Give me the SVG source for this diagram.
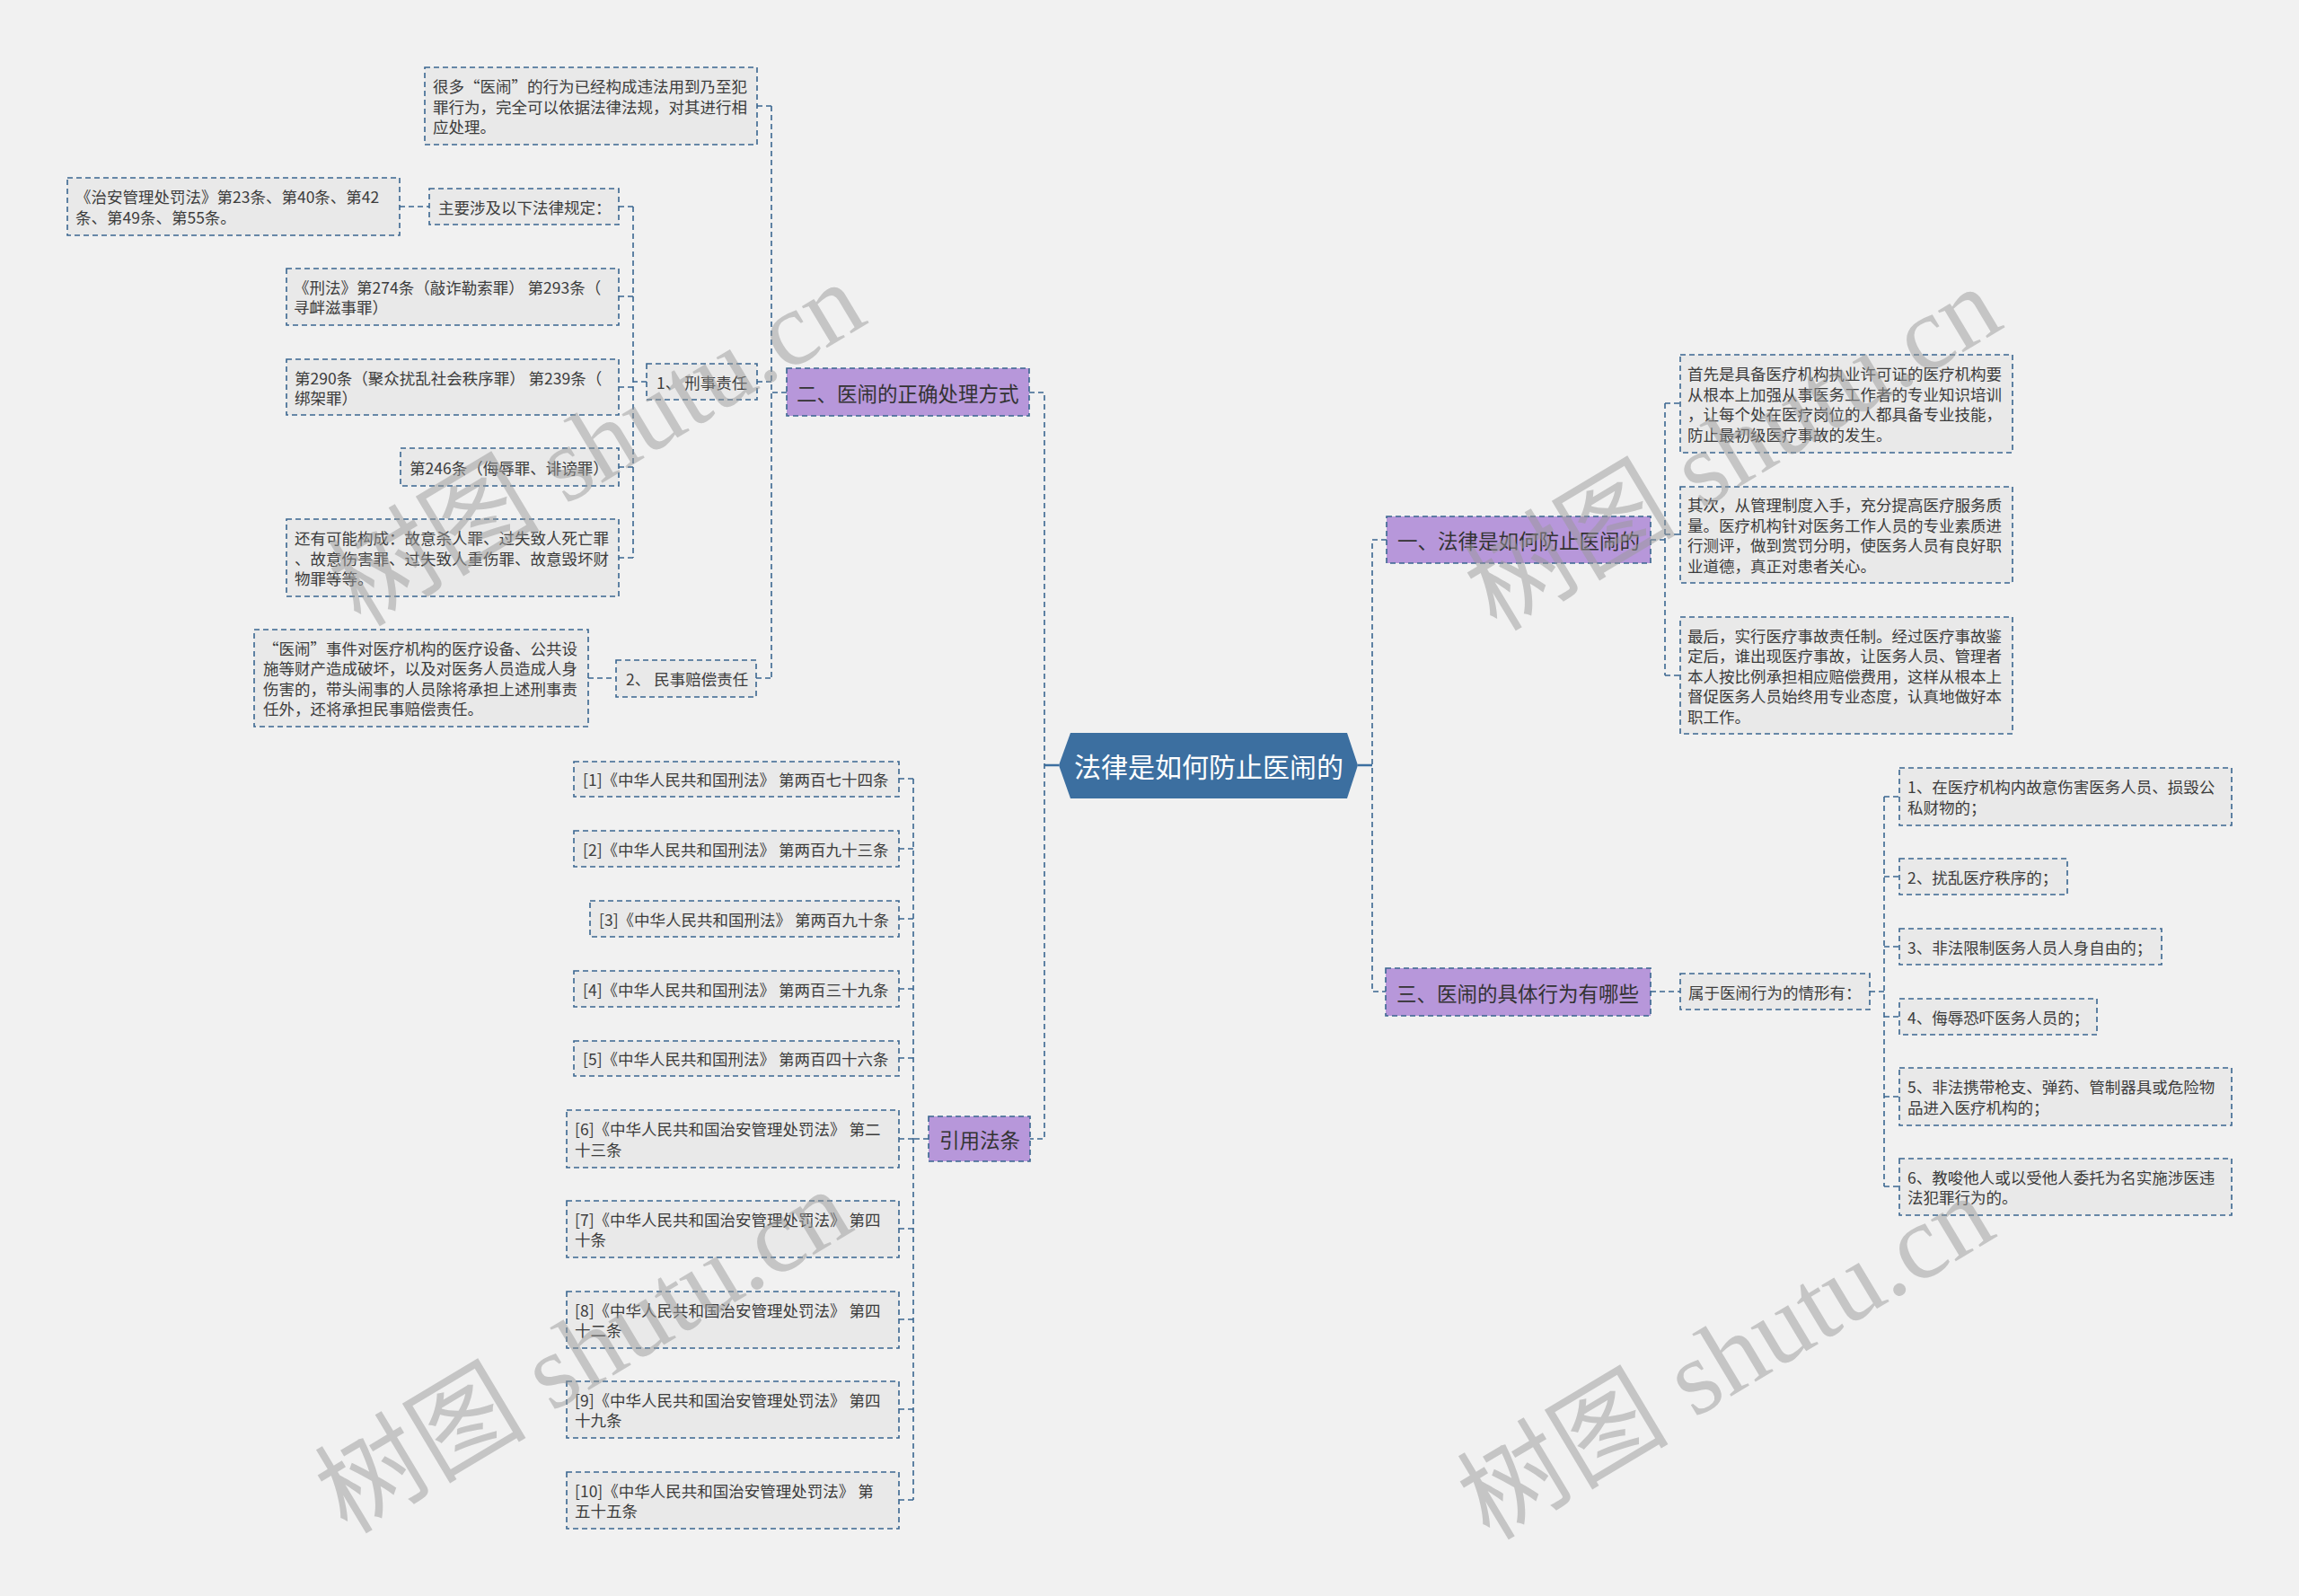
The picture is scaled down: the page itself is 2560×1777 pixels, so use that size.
<svg xmlns="http://www.w3.org/2000/svg" width="2560" height="1777" viewBox="0 0 2560 1777">
<style>
.bg{fill:#f1f1f1}
.leaf{fill:#e9e9e9;stroke:#3a6690;stroke-width:1.6;stroke-dasharray:6 4}
.main{fill:#b797da;stroke:#3a6690;stroke-width:1.6;stroke-dasharray:6 4}
.root{fill:#3c6fa0}
.conn{fill:none;stroke:#3a6690;stroke-width:1.6;stroke-dasharray:6 4}
.solid{fill:none;stroke:#3c6fa0;stroke-width:2.5}
.t{font-family:"Noto Sans CJK SC","Microsoft YaHei",sans-serif;font-size:17.5px;fill:#3c3c3c;dominant-baseline:central}
.m{font-family:"Noto Sans CJK SC",sans-serif;font-size:22.5px;fill:#333;dominant-baseline:central}
.r{font-family:"Noto Sans CJK SC",sans-serif;font-size:30px;fill:#fff;dominant-baseline:central;text-anchor:middle}
.wm{font-family:"Liberation Serif","Noto Sans CJK SC",serif;font-size:118px;fill:#9a9a9a;opacity:0.5;text-anchor:middle;dominant-baseline:central}
</style>
<rect class="bg" x="0" y="0" width="2560" height="1777"/>

<g id="connectors">
<path class="solid" d="M1163 852 H1179 M1512 852 H1528"/>
<path class="conn" d="M1146 437 H1163 V1268 H1147"/>
<path class="conn" d="M1544 601 H1528 V1104 H1543"/>
<path class="conn" d="M876 437 H859 M859 118 V755 M843 118 H859 M843 425 H859 M842 755 H859"/>
<path class="conn" d="M720 425 H705 M705 230 V621 M689 230 H705 M689 330 H705 M689 431 H705 M689 520 H705 M689 621 H705"/>
<path class="conn" d="M445 230 H478 M655 755 H686"/>
<path class="conn" d="M1034 1268 H1017 M1017 867 V1670 M1001 867 H1017 M1001 945 H1017 M1001 1023 H1017 M1001 1101 H1017 M1001 1178 H1017 M1001 1268 H1017 M1001 1368 H1017 M1001 1469 H1017 M1001 1569 H1017 M1001 1670 H1017"/>
<path class="conn" d="M1838 601 H1854 M1854 449 V752 M1854 449 H1871 M1854 595 H1871 M1854 752 H1871"/>
<path class="conn" d="M1838 1104 H1871 M2082 1104 H2098 M2098 887 V1321 M2098 887 H2115 M2098 976 H2115 M2098 1054 H2115 M2098 1132 H2115 M2098 1221 H2115 M2098 1321 H2115"/>
</g>

<g id="root">
<polygon class="root" points="1179,852 1192,816 1500,816 1512,852 1500,889 1192,889"/>
<text class="r" x="1346" y="852">法律是如何防止医闹的</text>
</g>

<g id="n2">
<rect class="main" x="876" y="410" width="270" height="53"/>
<text class="m" x="887" y="437">二、医闹的正确处理方式</text>
</g>
<g id="n2a">
<rect class="leaf" x="473" y="75" width="370" height="86"/>
<text class="t" x="482" y="95.5">很多“医闹”的行为已经构成违法用到乃至犯</text>
<text class="t" x="482" y="118">罪行为，完全可以依据法律法规，对其进行相</text>
<text class="t" x="482" y="140.5">应处理。</text>
</g>
<g id="n2b">
<rect class="leaf" x="720" y="405" width="123" height="40"/>
<text class="t" x="731" y="425">1、 刑事责任</text>
</g>
<g id="n2b1">
<rect class="leaf" x="478" y="210" width="211" height="40"/>
<text class="t" x="488" y="230">主要涉及以下法律规定：</text>
</g>
<g id="n2b1a">
<rect class="leaf" x="75" y="198" width="370" height="64"/>
<text class="t" x="84" y="218.5">《治安管理处罚法》第23条、第40条、第42</text>
<text class="t" x="84" y="241">条、第49条、第55条。</text>
</g>
<g id="n2b2">
<rect class="leaf" x="319" y="299" width="370" height="63"/>
<text class="t" x="327" y="319">《刑法》第274条（敲诈勒索罪） 第293条（</text>
<text class="t" x="327" y="341.5">寻衅滋事罪）</text>
</g>
<g id="n2b3">
<rect class="leaf" x="319" y="400" width="370" height="62"/>
<text class="t" x="328" y="420">第290条（聚众扰乱社会秩序罪） 第239条（</text>
<text class="t" x="328" y="442.5">绑架罪）</text>
</g>
<g id="n2b4">
<rect class="leaf" x="446" y="499" width="243" height="42"/>
<text class="t" x="456" y="520">第246条（侮辱罪、诽谤罪）</text>
</g>
<g id="n2b5">
<rect class="leaf" x="319" y="578" width="370" height="86"/>
<text class="t" x="328" y="598.5">还有可能构成：故意杀人罪、过失致人死亡罪</text>
<text class="t" x="328" y="621">、故意伤害罪、过失致人重伤罪、故意毁坏财</text>
<text class="t" x="328" y="643.5">物罪等等。</text>
</g>
<g id="n2c">
<rect class="leaf" x="686" y="735" width="156" height="41"/>
<text class="t" x="697" y="755.5">2、 民事赔偿责任</text>
</g>
<g id="n2c1">
<rect class="leaf" x="283" y="701" width="372" height="108"/>
<text class="t" x="293" y="721.25">“医闹”事件对医疗机构的医疗设备、公共设</text>
<text class="t" x="293" y="743.75">施等财产造成破坏，以及对医务人员造成人身</text>
<text class="t" x="293" y="766.25">伤害的，带头闹事的人员除将承担上述刑事责</text>
<text class="t" x="293" y="788.75">任外，还将承担民事赔偿责任。</text>
</g>

<g id="n3">
<rect class="main" x="1034" y="1243" width="113" height="50"/>
<text class="m" x="1046" y="1268">引用法条</text>
</g>
<g id="r1"><rect class="leaf" x="639" y="848" width="362" height="39"/><text class="t" x="649" y="867.5">[1]《中华人民共和国刑法》 第两百七十四条</text></g>
<g id="r2"><rect class="leaf" x="639" y="925" width="362" height="40"/><text class="t" x="649" y="945">[2]《中华人民共和国刑法》 第两百九十三条</text></g>
<g id="r3"><rect class="leaf" x="657" y="1003" width="344" height="40"/><text class="t" x="667" y="1023">[3]《中华人民共和国刑法》 第两百九十条</text></g>
<g id="r4"><rect class="leaf" x="639" y="1081" width="362" height="40"/><text class="t" x="649" y="1101">[4]《中华人民共和国刑法》 第两百三十九条</text></g>
<g id="r5"><rect class="leaf" x="639" y="1159" width="362" height="39"/><text class="t" x="649" y="1178.5">[5]《中华人民共和国刑法》 第两百四十六条</text></g>
<g id="r6"><rect class="leaf" x="631" y="1236" width="370" height="64"/><text class="t" x="640" y="1256.75">[6]《中华人民共和国治安管理处罚法》 第二</text><text class="t" x="640" y="1279.25">十三条</text></g>
<g id="r7"><rect class="leaf" x="631" y="1337" width="370" height="63"/><text class="t" x="640" y="1357.25">[7]《中华人民共和国治安管理处罚法》 第四</text><text class="t" x="640" y="1379.75">十条</text></g>
<g id="r8"><rect class="leaf" x="631" y="1438" width="370" height="63"/><text class="t" x="640" y="1458.25">[8]《中华人民共和国治安管理处罚法》 第四</text><text class="t" x="640" y="1480.75">十二条</text></g>
<g id="r9"><rect class="leaf" x="631" y="1538" width="370" height="63"/><text class="t" x="640" y="1558.25">[9]《中华人民共和国治安管理处罚法》 第四</text><text class="t" x="640" y="1580.75">十九条</text></g>
<g id="r10"><rect class="leaf" x="631" y="1639" width="370" height="63"/><text class="t" x="640" y="1659.25">[10]《中华人民共和国治安管理处罚法》 第</text><text class="t" x="640" y="1681.75">五十五条</text></g>

<g id="n1">
<rect class="main" x="1544" y="575" width="294" height="52"/>
<text class="m" x="1556" y="601">一、法律是如何防止医闹的</text>
</g>
<g id="n1a">
<rect class="leaf" x="1871" y="395" width="370" height="109"/>
<text class="t" x="1879" y="415.75">首先是具备医疗机构执业许可证的医疗机构要</text>
<text class="t" x="1879" y="438.25">从根本上加强从事医务工作者的专业知识培训</text>
<text class="t" x="1879" y="460.75">，让每个处在医疗岗位的人都具备专业技能，</text>
<text class="t" x="1879" y="483.25">防止最初级医疗事故的发生。</text>
</g>
<g id="n1b">
<rect class="leaf" x="1871" y="542" width="370" height="107"/>
<text class="t" x="1879" y="561.75">其次，从管理制度入手，充分提高医疗服务质</text>
<text class="t" x="1879" y="584.25">量。医疗机构针对医务工作人员的专业素质进</text>
<text class="t" x="1879" y="606.75">行测评，做到赏罚分明，使医务人员有良好职</text>
<text class="t" x="1879" y="629.25">业道德，真正对患者关心。</text>
</g>
<g id="n1c">
<rect class="leaf" x="1871" y="687" width="370" height="130"/>
<text class="t" x="1879" y="707">最后，实行医疗事故责任制。经过医疗事故鉴</text>
<text class="t" x="1879" y="729.5">定后，谁出现医疗事故，让医务人员、管理者</text>
<text class="t" x="1879" y="752">本人按比例承担相应赔偿费用，这样从根本上</text>
<text class="t" x="1879" y="774.5">督促医务人员始终用专业态度，认真地做好本</text>
<text class="t" x="1879" y="797">职工作。</text>
</g>

<g id="n4">
<rect class="main" x="1543" y="1078" width="295" height="53"/>
<text class="m" x="1555" y="1104.5">三、医闹的具体行为有哪些</text>
</g>
<g id="n4a">
<rect class="leaf" x="1871" y="1084" width="211" height="40"/>
<text class="t" x="1880" y="1104">属于医闹行为的情形有：</text>
</g>
<g id="b1"><rect class="leaf" x="2115" y="855" width="370" height="64"/><text class="t" x="2124" y="875.75">1、在医疗机构内故意伤害医务人员、损毁公</text><text class="t" x="2124" y="898.25">私财物的；</text></g>
<g id="b2"><rect class="leaf" x="2115" y="956" width="187" height="40"/><text class="t" x="2124" y="976">2、扰乱医疗秩序的；</text></g>
<g id="b3"><rect class="leaf" x="2115" y="1034" width="292" height="40"/><text class="t" x="2124" y="1054">3、非法限制医务人员人身自由的；</text></g>
<g id="b4"><rect class="leaf" x="2115" y="1112" width="220" height="40"/><text class="t" x="2124" y="1132">4、侮辱恐吓医务人员的；</text></g>
<g id="b5"><rect class="leaf" x="2115" y="1189" width="370" height="64"/><text class="t" x="2124" y="1209.75">5、非法携带枪支、弹药、管制器具或危险物</text><text class="t" x="2124" y="1232.25">品进入医疗机构的；</text></g>
<g id="b6"><rect class="leaf" x="2115" y="1290" width="370" height="63"/><text class="t" x="2124" y="1310.25">6、教唆他人或以受他人委托为名实施涉医违</text><text class="t" x="2124" y="1332.75">法犯罪行为的。</text></g>

<g id="watermarks">
<text class="wm" transform="translate(665,495) rotate(-31)">树图 shutu.cn</text>
<text class="wm" transform="translate(1930,500) rotate(-31)">树图 shutu.cn</text>
<text class="wm" transform="translate(650,1505) rotate(-31)">树图 shutu.cn</text>
<text class="wm" transform="translate(1922,1512) rotate(-31)">树图 shutu.cn</text>
</g>
</svg>
